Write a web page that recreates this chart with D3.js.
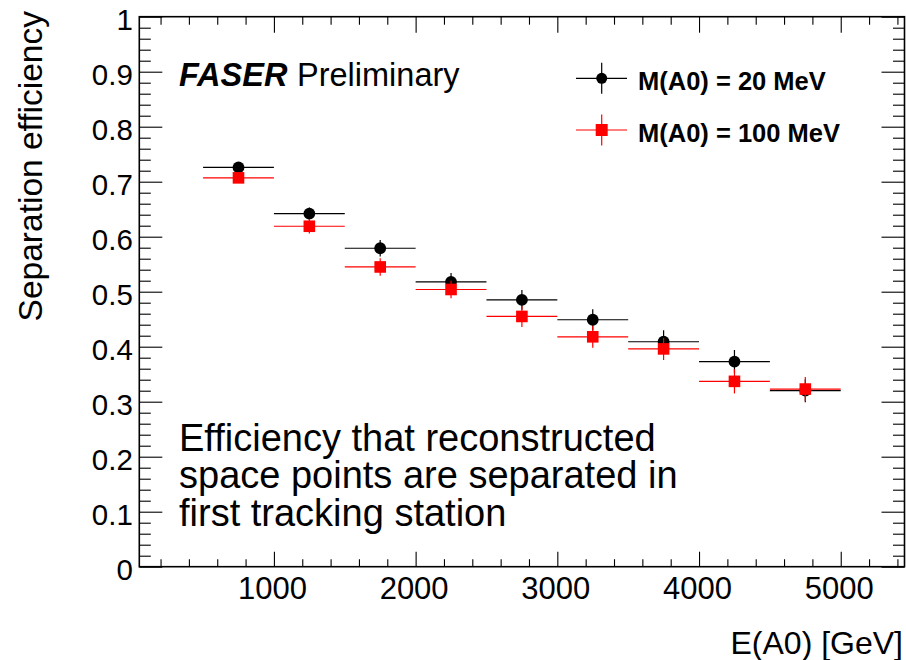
<!DOCTYPE html>
<html>
<head>
<meta charset="utf-8">
<script src="https://cdn.jsdelivr.net/npm/d3@7"></script>
<style>
  html, body { margin: 0; padding: 0; background: #fff; }
  svg { display: block; font-family: "Liberation Sans", Arial, Helvetica, sans-serif; }
</style>
</head>
<body>
<svg id="chart" width="906" height="660"></svg>
<script>
// ---- data ----
const binEdges = [500, 1000, 1500, 2000, 2500, 3000, 3500, 4000, 4500, 5000];
const eff20  = [0.726, 0.642, 0.579, 0.518, 0.485, 0.449, 0.409, 0.373, 0.320];
const err20  = [0.008, 0.011, 0.015, 0.016, 0.018, 0.019, 0.021, 0.021, 0.021];
const eff100 = [0.707, 0.619, 0.545, 0.504, 0.455, 0.418, 0.396, 0.337, 0.323];
const err100 = [0.008, 0.013, 0.016, 0.016, 0.019, 0.020, 0.020, 0.022, 0.022];
const xTicks = [1000, 2000, 3000, 4000, 5000];
const yTicks = [0, 0.1, 0.2, 0.3, 0.4, 0.5, 0.6, 0.7, 0.8, 0.9, 1];
const yTickLabels = ["0", "0.1", "0.2", "0.3", "0.4", "0.5", "0.6", "0.7", "0.8", "0.9", "1"];
const seriesNames = ["M(A0) = 20 MeV", "M(A0) = 100 MeV"];
const seriesColors = ["#000000", "#ff0000"];
const textLines = ["Efficiency that reconstructed", "space points are separated in", "first tracking station"];

// ---- layout ----
const L = 139.3, R = 904.5, T = 16.7, B = 566.7;
const svg = d3.select("#chart");
const x = d3.scaleLinear().domain([50, 5450]).range([L, R]);
const y = d3.scaleLinear().domain([0, 1]).range([B, T]);

const xMinor = d3.range(200, 5450, 200).filter(v => v % 1000 !== 0);
const yMinor = d3.range(0, 50).map(i => i * 0.02).filter((v, i) => i % 5 !== 0);

function styleAxis(g) {
  g.select(".domain").remove();
  g.selectAll(".tick line").attr("stroke", "#000").attr("stroke-width", 1.1);
}

// bottom axis
svg.append("g").attr("transform", `translate(0,${B})`)
  .call(d3.axisBottom(x).tickValues(xTicks).tickSizeInner(-15).tickSizeOuter(0).tickPadding(10.5).tickFormat(d3.format("d")))
  .call(styleAxis)
  .call(g => g.selectAll("text").attr("font-size", 31).attr("fill", "#000").attr("dx", -2)
    .attr("font-family", "'Liberation Sans', Arial, sans-serif"));
svg.append("g").attr("transform", `translate(0,${B})`)
  .call(d3.axisBottom(x).tickValues(xMinor).tickSizeInner(-7.5).tickSizeOuter(0).tickFormat(""))
  .call(styleAxis);
// top axis
svg.append("g").attr("transform", `translate(0,${T})`)
  .call(d3.axisTop(x).tickValues(xTicks).tickSizeInner(-16).tickSizeOuter(0).tickFormat(""))
  .call(styleAxis);
svg.append("g").attr("transform", `translate(0,${T})`)
  .call(d3.axisTop(x).tickValues(xMinor).tickSizeInner(-8).tickSizeOuter(0).tickFormat(""))
  .call(styleAxis);
// left axis
svg.append("g").attr("transform", `translate(${L},0)`)
  .call(d3.axisLeft(y).tickValues(yTicks).tickSizeInner(-23).tickSizeOuter(0).tickPadding(6.5)
    .tickFormat((d, i) => yTickLabels[i]))
  .call(styleAxis)
  .call(g => g.selectAll("text").attr("font-size", 29.5).attr("fill", "#000").attr("dy", "0.42em")
    .attr("font-family", "'Liberation Sans', Arial, sans-serif"));
svg.append("g").attr("transform", `translate(${L},0)`)
  .call(d3.axisLeft(y).tickValues(yMinor).tickSizeInner(-11.5).tickSizeOuter(0).tickFormat(""))
  .call(styleAxis);
// right axis
svg.append("g").attr("transform", `translate(${R},0)`)
  .call(d3.axisRight(y).tickValues(yTicks).tickSizeInner(-23).tickSizeOuter(0).tickFormat(""))
  .call(styleAxis);
svg.append("g").attr("transform", `translate(${R},0)`)
  .call(d3.axisRight(y).tickValues(yMinor).tickSizeInner(-11.5).tickSizeOuter(0).tickFormat(""))
  .call(styleAxis);

// frame
svg.append("rect").attr("x", L).attr("y", T).attr("width", R - L).attr("height", B - T)
  .attr("fill", "none").attr("stroke", "#000").attr("stroke-width", 1.6);

// axis titles
svg.append("text").attr("x", 903).attr("y", 654).attr("text-anchor", "end")
  .attr("font-size", 32).text("E(A0) [GeV]");
svg.append("text").attr("transform", "translate(41.5,11) rotate(-90)").attr("text-anchor", "end")
  .attr("font-size", 33.5).text("Separation efficiency");

// data series
const series = [
  { vals: eff20, errs: err20, color: seriesColors[0], shape: "circle" },
  { vals: eff100, errs: err100, color: seriesColors[1], shape: "square" }
];
series.forEach(s => {
  const g = svg.append("g");
  const pts = s.vals.map((v, i) => ({ lo: binEdges[i], hi: binEdges[i + 1], c: (binEdges[i] + binEdges[i + 1]) / 2, v, e: s.errs[i] }));
  g.selectAll("line.h").data(pts).join("line").attr("class", "h")
    .attr("x1", d => x(d.lo)).attr("x2", d => x(d.hi)).attr("y1", d => y(d.v)).attr("y2", d => y(d.v))
    .attr("stroke", s.color).attr("stroke-width", 1.2);
  g.selectAll("line.v").data(pts).join("line").attr("class", "v")
    .attr("x1", d => x(d.c)).attr("x2", d => x(d.c)).attr("y1", d => y(d.v - d.e)).attr("y2", d => y(d.v + d.e))
    .attr("stroke", s.color).attr("stroke-width", 1.2);
  if (s.shape === "circle") {
    g.selectAll("circle").data(pts).join("circle")
      .attr("cx", d => x(d.c)).attr("cy", d => y(d.v)).attr("r", 5.9).attr("fill", s.color);
  } else {
    g.selectAll("rect").data(pts).join("rect")
      .attr("x", d => x(d.c) - 5.8).attr("y", d => y(d.v) - 5.8).attr("width", 11.6).attr("height", 11.6)
      .attr("fill", s.color);
  }
});

// FASER Preliminary
svg.append("text").attr("x", 179).attr("y", 86).attr("font-size", 32.5)
  .attr("font-weight", "bold").attr("font-style", "italic").text("FASER");
svg.append("text").attr("x", 297).attr("y", 86).attr("font-size", 32.5).text("Preliminary");

// legend
const legY = [78.3, 130];
seriesNames.forEach((name, i) => {
  const g = svg.append("g");
  const cx = 601.7, cy = legY[i];
  g.append("line").attr("x1", 576).attr("x2", 627).attr("y1", cy).attr("y2", cy)
    .attr("stroke", seriesColors[i]).attr("stroke-width", 1.2);
  g.append("line").attr("x1", cx).attr("x2", cx).attr("y1", cy - 15.5).attr("y2", cy + 15.5)
    .attr("stroke", seriesColors[i]).attr("stroke-width", 1.2);
  if (i === 0) g.append("circle").attr("cx", cx).attr("cy", cy).attr("r", 5.5).attr("fill", seriesColors[i]);
  else g.append("rect").attr("x", cx - 6).attr("y", cy - 6).attr("width", 12).attr("height", 12).attr("fill", seriesColors[i]);
  g.append("text").attr("x", 638).attr("y", cy + 11.8).attr("font-size", 25.5).attr("font-weight", "bold").text(name);
});

// description text
svg.append("g").selectAll("text").data(textLines).join("text")
  .attr("x", 179).attr("y", (d, i) => 450.7 + i * 37.7).attr("font-size", 38).text(d => d);
</script>
</body>
</html>
